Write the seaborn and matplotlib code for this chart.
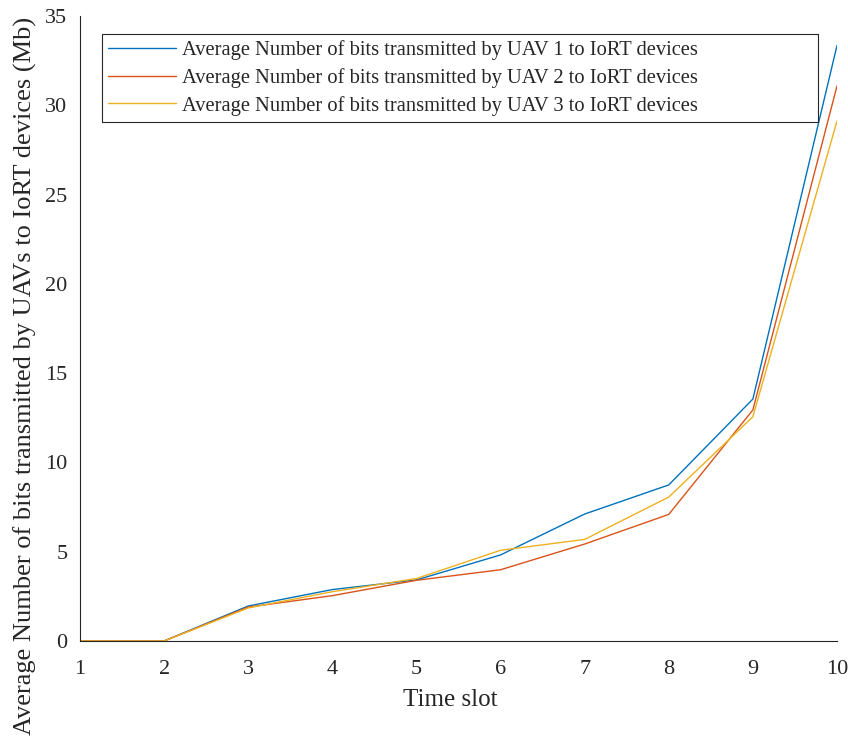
import matplotlib
matplotlib.use("Agg")
import matplotlib.pyplot as plt
import seaborn as sns
import pandas as pd

time_slot = [1, 2, 3, 4, 5, 6, 7, 8, 9, 10]
uav1 = [0.0, 0.0, 1.96, 2.88, 3.42, 4.82, 7.11, 8.74, 13.55, 33.35]
uav2 = [0.0, 0.0, 1.90, 2.54, 3.40, 3.99, 5.43, 7.09, 12.94, 31.08]
uav3 = [0.0, 0.0, 1.85, 2.76, 3.50, 5.08, 5.69, 8.06, 12.56, 29.12]
labels = [
    "Average Number of bits transmitted by UAV 1 to IoRT devices",
    "Average Number of bits transmitted by UAV 2 to IoRT devices",
    "Average Number of bits transmitted by UAV 3 to IoRT devices",
]
colors = ["#0072BD", "#D95319", "#EDB120"]

sns.set_theme(style="white")
plt.rcParams["font.family"] = ["Liberation Serif", "DejaVu Serif"]
plt.rcParams["mathtext.fontset"] = "stix"

df = pd.DataFrame({"Time slot": time_slot * 3,
                   "value": uav1 + uav2 + uav3,
                   "series": [labels[0]] * 10 + [labels[1]] * 10 + [labels[2]] * 10})

fig = plt.figure(figsize=(8.48, 7.41), dpi=100)
ax = fig.add_axes([80 / 848, 1 - 641 / 741, 757 / 848, 625 / 741])
sns.lineplot(data=df, x="Time slot", y="value", hue="series", palette=colors,
             linewidth=1.0, ax=ax, legend=True)

ax.set_xlim(1, 10)
ax.set_ylim(0, 35)
ax.set_xticks(range(1, 11))
ax.set_yticks(range(0, 36, 5))
ax.tick_params(direction="in", length=7, width=0.8, labelsize=16, colors="#262626")
ax.tick_params(axis="x", pad=13.5)
ax.tick_params(axis="y", pad=9)
for k in ["top", "right"]:
    ax.spines[k].set_visible(False)
for k in ["left", "bottom"]:
    ax.spines[k].set_color("#262626")
    ax.spines[k].set_linewidth(0.8)
ax.set_xlabel("Time slot", fontsize=18, color="#262626")
ax.set_ylabel("Average Number of bits transmitted by UAVs to IoRT devices (Mb)",
              fontsize=19, color="#262626")
ax.xaxis.set_label_coords((450 - 80) / 757, (641 - 689) / 625)
ax.yaxis.set_label_coords((37 - 80) / 757, (641 - 376) / 625)
ax.grid(False)

leg_top = (641 - 34) / 625
leg = ax.legend(loc="upper left", bbox_to_anchor=(22 / 757, leg_top - 0.2, 716 / 757, 0.2),
                mode="expand", fontsize=14.8,
                frameon=True, fancybox=False, edgecolor="#262626", framealpha=1,
                borderpad=0.3, labelspacing=0.38, handlelength=3.3, handletextpad=0.3,
                borderaxespad=0)
leg.get_frame().set_linewidth(0.8)

fig.savefig("out.png", dpi=100)
